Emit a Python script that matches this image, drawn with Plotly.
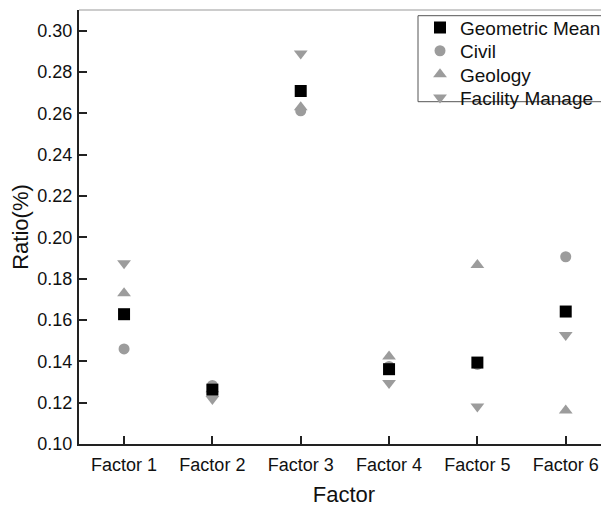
import plotly.graph_objects as go

factors = ["Factor 1", "Factor 2", "Factor 3", "Factor 4", "Factor 5", "Factor 6"]
geometric_mean = [0.1628, 0.1263, 0.2708, 0.1362, 0.1394, 0.1641]
civil = [0.1460, 0.1283, 0.2612, 0.1375, 0.1385, 0.1906]
geology = [0.1729, 0.1265, 0.2630, 0.1423, 0.1866, 0.1162]
facility = [0.1875, 0.1218, 0.2889, 0.1295, 0.1182, 0.1528]
y_ticks = [0.10, 0.12, 0.14, 0.16, 0.18, 0.20, 0.22, 0.24, 0.26, 0.28, 0.30]

GRAY = "#9c9c9c"
FONT = "Liberation Sans, Arial, sans-serif"

# page body has an 8px default margin; compensate so the plot area lands where the reference has it
BODY = 8
W, H = 609 - BODY, 507 - BODY
ML, MT, MB, MR = 79 - BODY, 10 - BODY, 63, 0
plot_h = 507 - 10 - 63  # screen px of plot area height
plot_w = 609 - 79


def px_to_paper_y(py):
    return (444 - py) / plot_h


def px_to_paper_x(px):
    return (px - 79) / plot_w


fig = go.Figure()
fig.add_trace(go.Scatter(x=factors, y=civil, mode="markers", name="Civil",
                         marker=dict(symbol="circle", size=11, color=GRAY), legend="legend2"))
fig.add_trace(go.Scatter(x=factors, y=geology, mode="markers", name="Geology",
                         marker=dict(symbol="triangle-up", size=12, color=GRAY), legend="legend3"))
fig.add_trace(go.Scatter(x=factors, y=facility, mode="markers", name="Facility Manage",
                         marker=dict(symbol="triangle-down", size=12, color=GRAY), legend="legend4"))
fig.add_trace(go.Scatter(x=factors, y=geometric_mean, mode="markers", name="Geometric Mean",
                         marker=dict(symbol="square", size=12, color="black"), legend="legend"))

legend_rows = [27.7, 50.9, 74.3, 97.7]
legend_common = dict(xanchor="left", yanchor="middle", bgcolor="rgba(0,0,0,0)",
                     borderwidth=0, font=dict(size=19, family=FONT, color="#111"),
                     x=px_to_paper_x(420))

fig.update_layout(
    width=W, height=H,
    margin=dict(l=ML, r=MR, t=MT, b=MB, pad=0),
    paper_bgcolor="white", plot_bgcolor="white",
    font=dict(family=FONT, color="#111", size=18),
    showlegend=True,
    legend=dict(y=px_to_paper_y(legend_rows[0]), **legend_common),
    legend2=dict(y=px_to_paper_y(legend_rows[1]), **legend_common),
    legend3=dict(y=px_to_paper_y(legend_rows[2]), **legend_common),
    legend4=dict(y=px_to_paper_y(legend_rows[3]), **legend_common),
    xaxis=dict(
        range=[-0.51, 5.49], showgrid=False, zeroline=False,
        showline=True, linecolor="#222", linewidth=2,
        ticks="inside", ticklen=8, tickwidth=2, tickcolor="#222",
        tickfont=dict(size=18), ticklabelstandoff=3,
        title=dict(text="Factor", font=dict(size=22), standoff=15),
    ),
    yaxis=dict(
        range=[0.10, 0.31], showgrid=False, zeroline=False,
        showline=True, linecolor="#222", linewidth=2,
        ticks="inside", ticklen=8, tickwidth=2, tickcolor="#222",
        tickvals=y_ticks, tickformat=".2f",
        tickfont=dict(size=18), ticklabelstandoff=1,
        title=dict(text="Ratio(%)", font=dict(size=22), standoff=8),
    ),
    shapes=[
        dict(type="line", xref="paper", yref="paper", x0=0, x1=1, y0=1, y1=1,
             line=dict(color="#999", width=1)),
        dict(type="rect", xref="paper", yref="paper",
             x0=px_to_paper_x(418), x1=px_to_paper_x(602),
             y0=px_to_paper_y(101.7), y1=px_to_paper_y(15.7),
             line=dict(color="#555", width=1), fillcolor="rgba(0,0,0,0)", layer="below"),
    ],
)

fig.write_html("out.html")
